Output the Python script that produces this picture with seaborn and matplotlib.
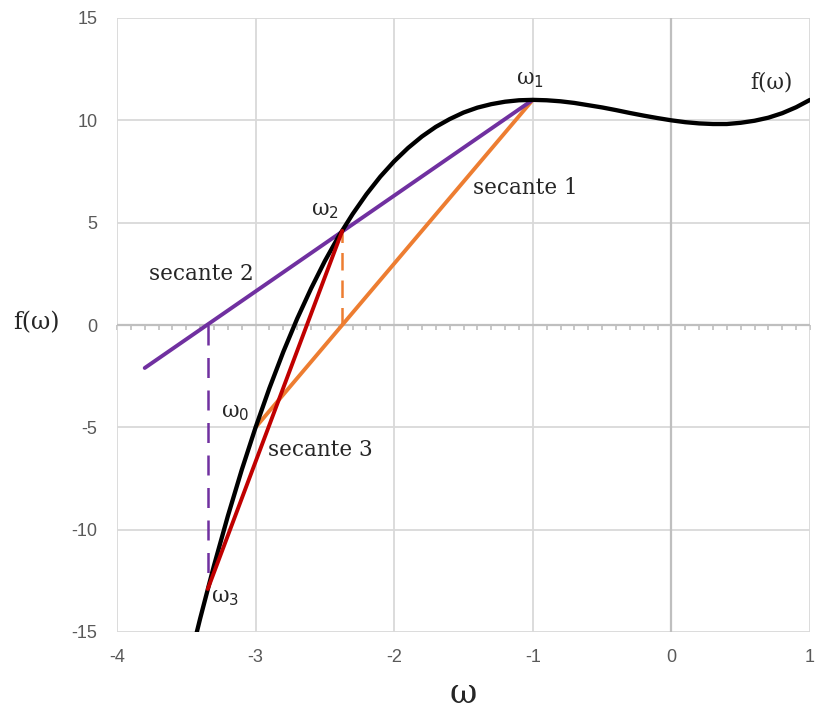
import matplotlib
matplotlib.use("Agg")
import matplotlib.pyplot as plt
import seaborn as sns
import pandas as pd
import numpy as np

# ---- data ----
curve_x = [-3.45, -3.4, -3.3, -3.2, -3.1, -3.0, -2.9, -2.8, -2.7, -2.6, -2.5, -2.4, -2.3,
           -2.2, -2.1, -2.0, -1.9, -1.8, -1.7, -1.6, -1.5, -1.4, -1.3, -1.2, -1.1, -1.0,
           -0.9, -0.8, -0.7, -0.6, -0.5, -0.4, -0.3, -0.2, -0.1, 0.0, 0.1, 0.2, 0.3, 0.4,
           0.5, 0.6, 0.7, 0.8, 0.9, 1.0]
curve_y = [-15.71, -14.34, -11.75, -9.33, -7.08, -5.0, -3.08, -1.31, 0.31, 1.78, 3.13, 4.34,
           5.42, 6.39, 7.25, 8.0, 8.65, 9.21, 9.68, 10.06, 10.38, 10.62, 10.79, 10.91, 10.98,
           11.0, 10.98, 10.93, 10.85, 10.74, 10.63, 10.50, 10.36, 10.23, 10.11, 10.0, 9.91,
           9.85, 9.82, 9.82, 9.88, 9.98, 10.13, 10.35, 10.64, 11.0]

secant1_x = [-3.0, -1.0]
secant1_y = [-5.0, 11.0]
secant2_x = [-3.8, -1.0]
secant2_y = [-2.1, 11.0]
secant3_x = [-3.345, -2.375]
secant3_y = [-12.9, 4.6]
drop1_x = [-2.375, -2.375]
drop1_y = [0.0, 4.6]
drop2_x = [-3.345, -3.345]
drop2_y = [0.0, -12.9]

x_ticks = [-4, -3, -2, -1, 0, 1]
y_ticks = [-15, -10, -5, 0, 5, 10, 15]

# ---- style ----
sns.set_style("whitegrid", {"grid.color": "#D9D9D9"})
SERIF = ["DejaVu Serif", "DejaVu Sans"]
TICKFONT = ["Liberation Sans Narrow", "Liberation Sans", "DejaVu Sans"]

fig = plt.figure(figsize=(8.18, 7.2), dpi=100)
ax = fig.add_axes([117 / 818, 1 - 632 / 720, (810 - 117) / 818, (632 - 18) / 720])

ORANGE = "#ED7D31"
PURPLE = "#7030A0"
RED = "#C00000"
LW = 2.8

df_curve = pd.DataFrame({"x": curve_x, "y": curve_y})

# zero lines
ax.axvline(0, color="#BFBFBF", lw=1.6, zorder=1)
ax.axhline(0, color="#BFBFBF", lw=1.6, zorder=1)

# dashed drop lines
sns.lineplot(x=drop1_x, y=drop1_y, ax=ax, color=ORANGE, lw=1.8,
             linestyle=(0, (7, 4)), sort=False, estimator=None, zorder=2)
sns.lineplot(x=drop2_x, y=drop2_y, ax=ax, color=PURPLE, lw=1.8,
             linestyle=(0, (8, 5)), sort=False, estimator=None, zorder=2)

# secants
sns.lineplot(x=secant1_x, y=secant1_y, ax=ax, color=ORANGE, lw=LW, sort=False, estimator=None, zorder=3)
sns.lineplot(x=secant2_x, y=secant2_y, ax=ax, color=PURPLE, lw=LW, sort=False, estimator=None, zorder=3)
# curve
sns.lineplot(data=df_curve, x="x", y="y", ax=ax, color="black", lw=LW + 0.3, sort=False,
             estimator=None, zorder=4)
sns.lineplot(x=secant3_x, y=secant3_y, ax=ax, color=RED, lw=LW, sort=False, estimator=None, zorder=5)

ax.set_xlim(-4, 1)
ax.set_ylim(-15, 15)
ax.set_xticks(x_ticks)
ax.set_yticks(y_ticks)
ax.set_xticklabels([str(t) for t in x_ticks])
ax.set_yticklabels([str(t) for t in y_ticks])
for lab in ax.get_xticklabels() + ax.get_yticklabels():
    lab.set_family(TICKFONT)
    lab.set_fontsize(13)
    lab.set_color("#595959")
ax.tick_params(axis="x", length=0, pad=12)
ax.tick_params(axis="y", length=0, pad=14)
ax.grid(True, color="#D9D9D9", lw=1.3)
for s in ax.spines.values():
    s.set_visible(False)

# minor ticks on the zero line via secondary axis
sec = ax.secondary_xaxis(0.5)
sec.set_xticks(np.arange(-4, 1.01, 0.1), minor=True)
sec.set_xticks([])
sec.tick_params(which="minor", direction="in", length=3.5, width=1.2, color="#BFBFBF")
sec.tick_params(which="major", length=0, labelbottom=False)
for s in sec.spines.values():
    s.set_visible(False)

ax.set_xlabel("")
ax.set_ylabel("")
fig.text(463 / 818, 1 - 694 / 720, "ω", family=SERIF, fontsize=24, ha="center", va="center")
fig.text(36 / 818, 1 - 323 / 720, "f(ω)", family=SERIF, fontsize=17, ha="center", va="center")

TS = 15.5
ax.text(-1.02, 11.5, "ω$_1$", family=SERIF, fontsize=TS, ha="center", va="bottom")
ax.text(0.72, 11.3, "f(ω)", family=SERIF, fontsize=TS, ha="center", va="bottom")
ax.text(-1.43, 6.7, "secante 1", family=SERIF, fontsize=TS, ha="left", va="center")
ax.text(-2.5, 5.1, "ω$_2$", family=SERIF, fontsize=TS, ha="center", va="bottom")
ax.text(-3.77, 2.5, "secante 2", family=SERIF, fontsize=TS, ha="left", va="center")
ax.text(-3.15, -4.8, "ω$_0$", family=SERIF, fontsize=TS, ha="center", va="bottom")
ax.text(-2.91, -6.1, "secante 3", family=SERIF, fontsize=TS, ha="left", va="center")
ax.text(-3.32, -13.3, "ω$_3$", family=SERIF, fontsize=TS, ha="left", va="center")

fig.savefig("out.png", dpi=100)
